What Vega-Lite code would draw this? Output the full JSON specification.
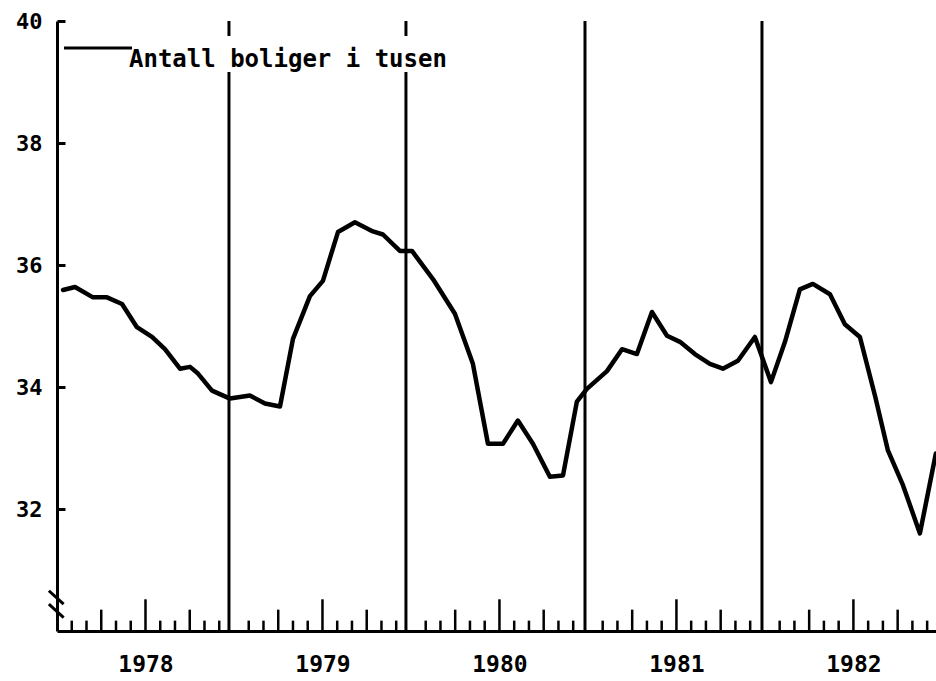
{
  "$schema": "https://vega.github.io/schema/vega-lite/v6.json",
  "autosize": "none",
  "width": 879,
  "height": 610,
  "padding": {"left": 57, "top": 21, "right": 0, "bottom": 50},
  "background": "white",
  "config": {"view": {"stroke": null}},
  "layer": [
    {
      "data": {"values": [{"t": 11.66}, {"t": 23.66}, {"t": 35.8}, {"t": 47.8}]},
      "mark": {"type": "rule", "color": "black", "strokeWidth": 3},
      "encoding": {
        "x": {"field": "t", "type": "quantitative", "scale": {"domain": [0, 59.6], "nice": false, "zero": false},
          "axis": {"values": [6, 18, 30, 42, 54], "labelExpr": "'' + (1978 + (datum.value - 6) / 12)", "ticks": false, "grid": false, "title": null,
            "domainColor": "black", "domainWidth": 3, "labelPadding": 22, "labelFont": "DejaVu Sans Mono", "labelFontWeight": "bold", "labelFontSize": 23, "labelColor": "black"}}
      }
    },
    {
      "data": {"values": [
        {"m": 0}, {"m": 1}, {"m": 2}, {"m": 3}, {"m": 4}, {"m": 5}, {"m": 6}, {"m": 7}, {"m": 8}, {"m": 9},
        {"m": 10}, {"m": 11}, {"m": 12}, {"m": 13}, {"m": 14}, {"m": 15}, {"m": 16}, {"m": 17}, {"m": 18}, {"m": 19},
        {"m": 20}, {"m": 21}, {"m": 22}, {"m": 23}, {"m": 24}, {"m": 25}, {"m": 26}, {"m": 27}, {"m": 28}, {"m": 29},
        {"m": 30}, {"m": 31}, {"m": 32}, {"m": 33}, {"m": 34}, {"m": 35}, {"m": 36}, {"m": 37}, {"m": 38}, {"m": 39},
        {"m": 40}, {"m": 41}, {"m": 42}, {"m": 43}, {"m": 44}, {"m": 45}, {"m": 46}, {"m": 47}, {"m": 48}, {"m": 49},
        {"m": 50}, {"m": 51}, {"m": 52}, {"m": 53}, {"m": 54}, {"m": 55}, {"m": 56}, {"m": 57}, {"m": 58}, {"m": 59}
      ]},
      "layer": [
        {
          "transform": [{"filter": "datum.m % 12 == 6"}],
          "mark": {"type": "rule", "color": "black", "strokeWidth": 2.5},
          "encoding": {"x": {"field": "m", "type": "quantitative"}, "y": {"datum": 30}, "y2": {"datum": 30.52}}
        },
        {
          "transform": [{"filter": "datum.m % 12 == 3 || datum.m % 12 == 9"}],
          "mark": {"type": "rule", "color": "black", "strokeWidth": 2.5},
          "encoding": {"x": {"field": "m", "type": "quantitative"}, "y": {"datum": 30}, "y2": {"datum": 30.35}}
        },
        {
          "transform": [{"filter": "datum.m % 3 != 0"}],
          "mark": {"type": "rule", "color": "black", "strokeWidth": 2.5},
          "encoding": {"x": {"field": "m", "type": "quantitative"}, "y": {"datum": 30}, "y2": {"datum": 30.17}}
        }
      ]
    },
    {
      "data": {"values": [{"a": 1}]},
      "layer": [
        {"mark": {"type": "rule", "color": "black", "strokeWidth": 3},
         "encoding": {"x": {"datum": -0.55}, "x2": {"datum": 0.45}, "y": {"datum": 30.66}, "y2": {"datum": 30.44}}},
        {"mark": {"type": "rule", "color": "black", "strokeWidth": 3},
         "encoding": {"x": {"datum": -0.55}, "x2": {"datum": 0.45}, "y": {"datum": 30.44}, "y2": {"datum": 30.22}}}
      ]
    },
    {
      "data": {"values": [
        {"t": 0.41, "v": 35.59}, {"t": 1.22, "v": 35.64}, {"t": 2.44, "v": 35.47}, {"t": 3.39, "v": 35.47},
        {"t": 4.41, "v": 35.36}, {"t": 5.42, "v": 34.98}, {"t": 6.44, "v": 34.82}, {"t": 7.32, "v": 34.62},
        {"t": 8.34, "v": 34.30}, {"t": 9.02, "v": 34.33}, {"t": 9.56, "v": 34.22}, {"t": 10.51, "v": 33.94},
        {"t": 11.73, "v": 33.81}, {"t": 13.08, "v": 33.86}, {"t": 14.10, "v": 33.73}, {"t": 15.12, "v": 33.68},
        {"t": 16.0, "v": 34.79}, {"t": 17.15, "v": 35.49}, {"t": 18.03, "v": 35.74}, {"t": 19.05, "v": 36.54},
        {"t": 20.20, "v": 36.70}, {"t": 21.42, "v": 36.55}, {"t": 22.10, "v": 36.50}, {"t": 23.25, "v": 36.23},
        {"t": 24.07, "v": 36.23}, {"t": 25.49, "v": 35.77}, {"t": 26.98, "v": 35.20}, {"t": 28.20, "v": 34.38},
        {"t": 29.22, "v": 33.07}, {"t": 30.24, "v": 33.07}, {"t": 31.25, "v": 33.45}, {"t": 32.27, "v": 33.07},
        {"t": 33.42, "v": 32.53}, {"t": 34.31, "v": 32.55}, {"t": 35.25, "v": 33.76}, {"t": 35.93, "v": 33.97},
        {"t": 37.29, "v": 34.26}, {"t": 38.31, "v": 34.62}, {"t": 39.32, "v": 34.54}, {"t": 40.34, "v": 35.23},
        {"t": 41.36, "v": 34.84}, {"t": 42.24, "v": 34.74}, {"t": 43.25, "v": 34.54}, {"t": 44.27, "v": 34.38},
        {"t": 45.15, "v": 34.30}, {"t": 46.17, "v": 34.43}, {"t": 47.32, "v": 34.82}, {"t": 48.41, "v": 34.08},
        {"t": 49.36, "v": 34.74}, {"t": 50.37, "v": 35.60}, {"t": 51.25, "v": 35.69}, {"t": 52.41, "v": 35.52},
        {"t": 53.42, "v": 35.03}, {"t": 54.44, "v": 34.82}, {"t": 55.46, "v": 33.86}, {"t": 56.34, "v": 32.96},
        {"t": 57.36, "v": 32.39}, {"t": 58.51, "v": 31.60}, {"t": 59.59, "v": 32.91}
      ]},
      "mark": {"type": "line", "strokeWidth": 4.5, "strokeJoin": "round", "strokeCap": "round"},
      "encoding": {
        "x": {"field": "t", "type": "quantitative"},
        "y": {"field": "v", "type": "quantitative", "scale": {"domain": [30, 40], "nice": false, "zero": false},
          "axis": {"values": [32, 34, 36, 38, 40], "format": "d", "title": null, "grid": false, "tickSize": -8, "tickWidth": 3, "tickColor": "black",
            "domainColor": "black", "domainWidth": 3, "labelPadding": 23, "labelFont": "DejaVu Sans Mono", "labelFontWeight": "bold", "labelFontSize": 22, "labelColor": "black"}},
        "color": {"datum": "Antall boliger i tusen", "type": "nominal", "scale": {"range": ["black"]},
          "legend": {"orient": "none", "legendX": 5, "legendY": 15, "title": null, "symbolType": "M-4,0H4", "symbolSize": 289, "symbolStrokeWidth": 3,
            "symbolOffset": 24,
            "labelFont": "DejaVu Sans Mono", "labelFontWeight": "bold", "labelFontSize": 24, "labelColor": "black", "labelOffset": 19, "labelLimit": 0,
            "fillColor": "white", "padding": 0, "labelBaseline": "top"}}
      }
    }
  ]
}
